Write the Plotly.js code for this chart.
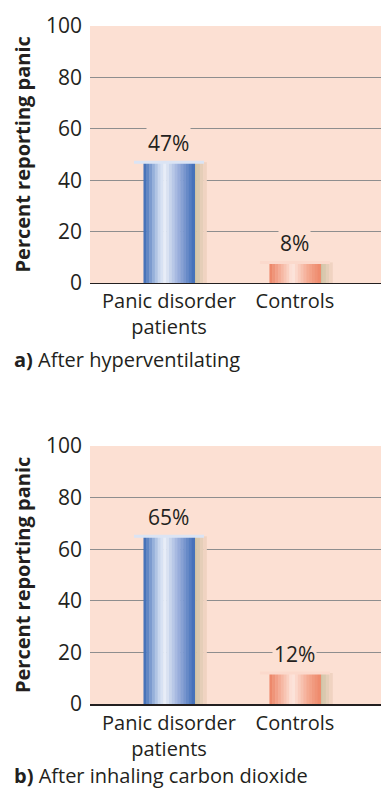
<!DOCTYPE html>
<html>
<head>
<meta charset="utf-8">
<script src="https://cdn.plot.ly/plotly-3.0.1.min.js"></script>
<style>html,body{margin:0;padding:0;background:#fff;}#chart{width:381px;height:790px;}</style>
</head>
<body>
<div id="chart"></div>
<script>
// ---- data ----
const categories = ['Panic disorder<br>patients', 'Controls'];
const hyperventilating = [47, 8];
const carbonDioxide = [65, 12];
const yTicks = [0, 20, 40, 60, 80, 100];
const gridTicks = [20, 40, 60, 80];
const yTitle = 'Percent reporting panic';
const captionA = '<b>a)</b> After hyperventilating';
const captionB = '<b>b)</b> After inhaling carbon dioxide';

// ---- style ----
const FONT = 'Open Sans, Noto Sans, sans-serif';
const INK = '#231f20';
const BG = '#fce0d3';
const BAR_W = 0.405;
const SLICES = 18;
const SHADOW_W = 0.095;
const blueStops = [[0, [58, 105, 180]], [0.3, [200, 214, 238]], [0.42, [232, 238, 248]], [0.7, [150, 172, 218]], [1, [62, 108, 183]]];
const salmonStops = [[0, [236, 130, 100]], [0.35, [250, 206, 190]], [0.45, [253, 232, 224]], [0.75, [244, 170, 145]], [1, [238, 135, 105]]];
const shadowStops = [[0, [200, 192, 160]], [1, [246, 214, 198]]];

function colorAt(stops, t) {
  for (let i = 0; i < stops.length - 1; i++) {
    const [t0, c0] = stops[i], [t1, c1] = stops[i + 1];
    if (t >= t0 && t <= t1) {
      const f = (t - t0) / (t1 - t0);
      const c = c0.map((v, k) => Math.round(v + (c1[k] - v) * f));
      return `rgb(${c[0]},${c[1]},${c[2]})`;
    }
  }
  const c = stops[stops.length - 1][1];
  return `rgb(${c[0]},${c[1]},${c[2]})`;
}

const xs = categories.map((_, i) => i);

function cylinderTraces(values, xa, ya) {
  const traces = [];
  const SH = 4;
  for (let i = 0; i < SH; i++) {
    const t = (i + 0.5) / SH;
    const c = colorAt(shadowStops, t);
    traces.push({
      type: 'bar', x: xs, y: values, xaxis: xa, yaxis: ya,
      offset: BAR_W / 2 - 0.01 + i * (SHADOW_W + 0.01) / SH,
      width: (SHADOW_W + 0.01) / SH + 0.003,
      marker: { color: [c, c], line: { width: 0 } },
      hoverinfo: 'skip', showlegend: false
    });
  }
  for (let i = 0; i < SLICES; i++) {
    const t = (i + 0.5) / SLICES;
    traces.push({
      type: 'bar', x: xs, y: values, xaxis: xa, yaxis: ya,
      offset: -BAR_W / 2 + i * BAR_W / SLICES,
      width: BAR_W / SLICES + 0.004,
      marker: { color: [colorAt(blueStops, t), colorAt(salmonStops, t)], line: { width: 0 } },
      hoverinfo: 'skip', showlegend: false
    });
  }
  traces.push({
    type: 'scatter', mode: 'markers', x: xs, y: values, xaxis: xa, yaxis: ya,
    marker: { symbol: 'line-ew', size: 50, line: { width: 3, color: ['#dbe4f4', '#fbd9cc'] } },
    hoverinfo: 'skip', showlegend: false
  });
  return traces;
}

const data = [
  ...cylinderTraces(hyperventilating, 'x', 'y'),
  ...cylinderTraces(carbonDioxide, 'x2', 'y2')
];

const xRange = [-0.627, 1.683];
function xAxis(anchor) {
  return {
    anchor: anchor, domain: [0, 1], range: xRange, tickmode: 'array', tickvals: xs, ticktext: categories,
    showline: true, linecolor: INK, linewidth: 1.5, showgrid: false, zeroline: false, ticks: '',
    tickfont: { family: FONT, size: 20, color: INK }, fixedrange: true
  };
}
function yAxis(domain, anchor) {
  return {
    anchor: anchor, domain: domain, range: [0, 100], tickmode: 'array', tickvals: yTicks,
    showgrid: false, zeroline: false, ticks: '', ticklabelstandoff: 7,
    tickfont: { family: FONT, size: 21, color: INK },
    minor: { tickmode: 'array', tickvals: gridTicks, showgrid: true, gridcolor: '#8e8e8e', gridwidth: 1.2, ticks: '' }
  };
}

const topDom = [0.621, 1], botDom = [0, 0.3805];
const PLOT_W = 291;
const px = (p) => (p - 90) / PLOT_W;

function pctAnnotations(values, xr, yr) {
  return values.map((v, i) => ({
    x: xs[i], y: v, xref: xr, yref: yr, text: v + '%', showarrow: false,
    yanchor: 'middle', yshift: 19, bgcolor: BG, borderpad: 1,
    font: { family: FONT, size: 21, color: INK }
  }));
}

const layout = {
  width: 381, height: 790,
  margin: { l: 90, r: 0, t: 26, b: 86 },
  paper_bgcolor: '#ffffff', plot_bgcolor: BG,
  barmode: 'overlay', showlegend: false,
  xaxis: xAxis('y'), xaxis2: xAxis('y2'),
  yaxis: yAxis(topDom, 'x'), yaxis2: yAxis(botDom, 'x2'),
  annotations: [
    ...pctAnnotations(hyperventilating, 'x', 'y'),
    ...pctAnnotations(carbonDioxide, 'x2', 'y2'),
    { text: '<b>' + yTitle + '</b>', textangle: -90, xref: 'paper', yref: 'paper', x: px(22), xanchor: 'center',
      y: (topDom[0] + topDom[1]) / 2, yanchor: 'middle', showarrow: false, font: { family: FONT, size: 20, color: INK } },
    { text: '<b>' + yTitle + '</b>', textangle: -90, xref: 'paper', yref: 'paper', x: px(22), xanchor: 'center',
      y: (botDom[0] + botDom[1]) / 2, yanchor: 'middle', showarrow: false, font: { family: FONT, size: 20, color: INK } },
    { text: captionA, xref: 'paper', yref: 'paper', x: px(12), xanchor: 'left', y: (704 - 360) / 678, yanchor: 'middle',
      showarrow: false, font: { family: FONT, size: 20, color: INK } },
    { text: captionB, xref: 'paper', yref: 'paper', x: px(12), xanchor: 'left', y: (704 - 775) / 678, yanchor: 'middle',
      showarrow: false, font: { family: FONT, size: 20, color: INK } }
  ]
};

Plotly.newPlot('chart', data, layout, { displayModeBar: false, staticPlot: true });
</script>
</body>
</html>
